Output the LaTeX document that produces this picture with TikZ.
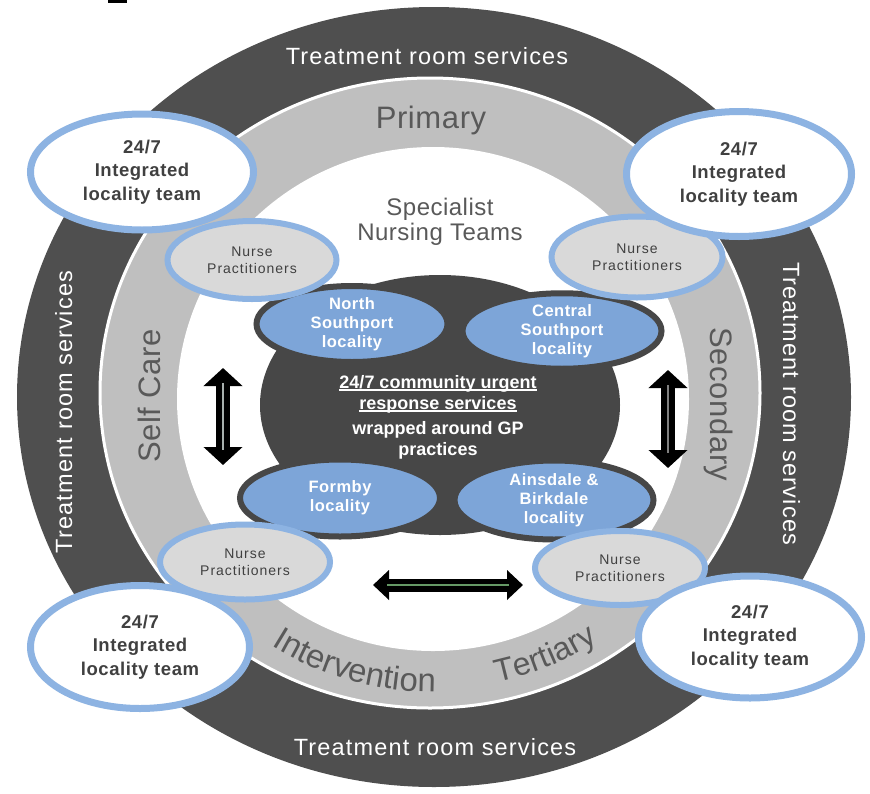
\documentclass[tikz,border=0pt]{standalone}
\usepackage{fontspec}
\setmainfont{Liberation Sans}
\usetikzlibrary{shapes.geometric,arrows.meta,decorations.text}
\definecolor{ringdark}{HTML}{4F4F4F}
\definecolor{ringgray}{HTML}{BFBFBF}
\definecolor{blobdark}{HTML}{474747}
\definecolor{locblue}{HTML}{7DA5D8}
\definecolor{paleblue}{HTML}{8DB3E2}
\definecolor{nursegray}{HTML}{D9D9D9}
\definecolor{txtgray}{HTML}{595959}
\definecolor{txtdark}{HTML}{404040}
\definecolor{stripegray}{HTML}{A8B0AE}
\newcommand\ulbar[1]{\setbox0\hbox{#1}\rlap{\rule[-2.6pt]{\wd0}{1.3pt}}\box0}
\begin{document}
\begin{tikzpicture}[x=1pt,y=1pt,
  team/.style={ellipse, draw=paleblue, line width=7pt, fill=white, inner sep=0pt, align=center, text=txtdark, font=\bfseries\fontsize{18.5}{23.5}\selectfont\addfontfeature{LetterSpace=3}},
  nurse/.style={ellipse, draw=paleblue, line width=6pt, fill=nursegray, inner sep=0pt, align=center, text=txtdark, font=\fontsize{14}{17.5}\selectfont\addfontfeature{LetterSpace=7}},
  loc/.style={ellipse, draw=blobdark, line width=6pt, fill=locblue, inner sep=0pt, align=center, text=white, font=\bfseries\fontsize{16.5}{19}\selectfont\addfontfeature{LetterSpace=3}},
  ringtxt/.style={text=white, font=\fontsize{23.5}{24}\selectfont\addfontfeature{LetterSpace=5}, anchor=base, inner sep=0pt},
  bandtxt/.style={text=txtgray, font=\fontsize{31}{31}\selectfont\addfontfeature{LetterSpace=2}, anchor=base, inner sep=0pt},
  twoway/.style={line width=14pt, {Triangle[width=38pt,length=18pt]}-{Triangle[width=38pt,length=18pt]}},
  twowayh/.style={line width=13pt, {Triangle[width=29pt,length=16pt]}-{Triangle[width=29pt,length=16pt]}},
  stripe/.style={line width=2.5pt, draw=stripegray}
]
\useasboundingbox (0,0) rectangle (870,-793);
\fill[white] (0,0) rectangle (870,-793);
\fill[black] (108,0) rectangle (127,-2.5);
% rings
\fill[ringdark] (434,-397) ellipse [x radius=417pt, y radius=390pt];
\filldraw[fill=ringgray, draw=white, line width=3pt] (430,-393) ellipse [x radius=330pt, y radius=315pt];
\fill[white] (433,-399) ellipse [x radius=256pt, y radius=252pt];
% central blob
\fill[blobdark] (440,-405) ellipse [x radius=180pt, y radius=130pt];
% localities
\node[loc, minimum width=191pt, minimum height=76pt] (north) at (352,-324) {North\\Southport\\locality};
\node[loc, minimum width=199pt, minimum height=71pt] (central) at (562,-331) {Central\\Southport\\locality};
\node[loc, minimum width=200pt, minimum height=77pt] (formby) at (340,-498) {Formby\\locality};
\node[loc, minimum width=199pt, minimum height=79pt] (ainsdale) at (554,-500) {Ainsdale \&\\Birkdale\\locality};
\node[text=white, font=\bfseries\fontsize{18}{21}\selectfont, align=center, inner sep=0pt] (core) at (438,-417)
  {\ulbar{24/7 community urgent}\\\ulbar{response services}\\[4pt]wrapped around GP\\practices};
% nurse practitioners
\node[nurse, minimum width=169pt, minimum height=78pt] (nptl) at (252,-260) {Nurse\\Practitioners};
\node[nurse, minimum width=171pt, minimum height=81pt] (nptr) at (637,-257) {Nurse\\Practitioners};
\node[nurse, minimum width=170pt, minimum height=75pt] (npbl) at (245,-562) {Nurse\\Practitioners};
\node[nurse, minimum width=170pt, minimum height=74pt] (npbr) at (620,-568) {Nurse\\Practitioners};
% integrated teams
\node[team, minimum width=223pt, minimum height=116pt] (ittl) at (142,-172) {24/7\\Integrated\\locality team};
\node[team, minimum width=225pt, minimum height=125pt] (ittr) at (739,-174) {24/7\\Integrated\\locality team};
\node[team, minimum width=219pt, minimum height=123pt] (itbl) at (140,-647) {24/7\\Integrated\\locality team};
\node[team, minimum width=223pt, minimum height=122pt] (itbr) at (750,-637) {24/7\\Integrated\\locality team};
% arrows
\coordinate (la1) at (223,-368); \coordinate (la2) at (223,-465);
\coordinate (ls1) at (223,-383); \coordinate (ls2) at (223,-450);
\coordinate (ra1) at (668,-370); \coordinate (ra2) at (668,-468);
\coordinate (rs1) at (668,-385); \coordinate (rs2) at (668,-453);
\coordinate (ha1) at (373,-585); \coordinate (ha2) at (523,-585);
\coordinate (hs1) at (387,-585); \coordinate (hs2) at (509,-585);
\draw[twoway] (la1) -- (la2);
\draw[stripe] (ls1) -- (ls2);
\draw[twoway] (ra1) -- (ra2);
\draw[stripe, draw=gray] (rs1) -- (rs2);
\draw[twowayh] (ha1) -- (ha2);
\draw[stripe, draw=gray!80!green] (hs1) -- (hs2);
% ring texts
\node[ringtxt] (trtop) at (427,-64) {Treatment room services};
\node[ringtxt] (trbot) at (435,-755) {Treatment room services};
\node[ringtxt, rotate=90] (trleft) at (72,-412) {Treatment room services};
\node[ringtxt, rotate=-90] (trright) at (783,-404) {Treatment room services};
% band texts
\node[bandtxt] (primary) at (431,-128) {Primary};
\node[bandtxt, rotate=90] (selfcare) at (160,-396) {Self Care};
\node[bandtxt, rotate=-90] (secondary) at (710,-404) {Secondary};
\path[decorate, decoration={text along path, text={|\fontsize{33}{33}\selectfont\color{txtgray}|Intervention}, text align=left}]
  (433,-397) ++(237.5:300 and 295) arc[start angle=237.5, end angle=295, x radius=300pt, y radius=295pt];
\path[decorate, decoration={text along path, text={|\fontsize{32}{32}\selectfont\color{txtgray}|Tertiary}, text align=left}]
  (433,-397) ++(282.5:300 and 292) arc[start angle=282.5, end angle=320, x radius=300pt, y radius=292pt];
% specialist
\node[text=txtgray, font=\fontsize{24}{25}\selectfont\addfontfeature{LetterSpace=2}, align=center, anchor=base, inner sep=0pt] (spec) at (440,-240) {Specialist\\Nursing Teams};
\end{tikzpicture}
\end{document}
